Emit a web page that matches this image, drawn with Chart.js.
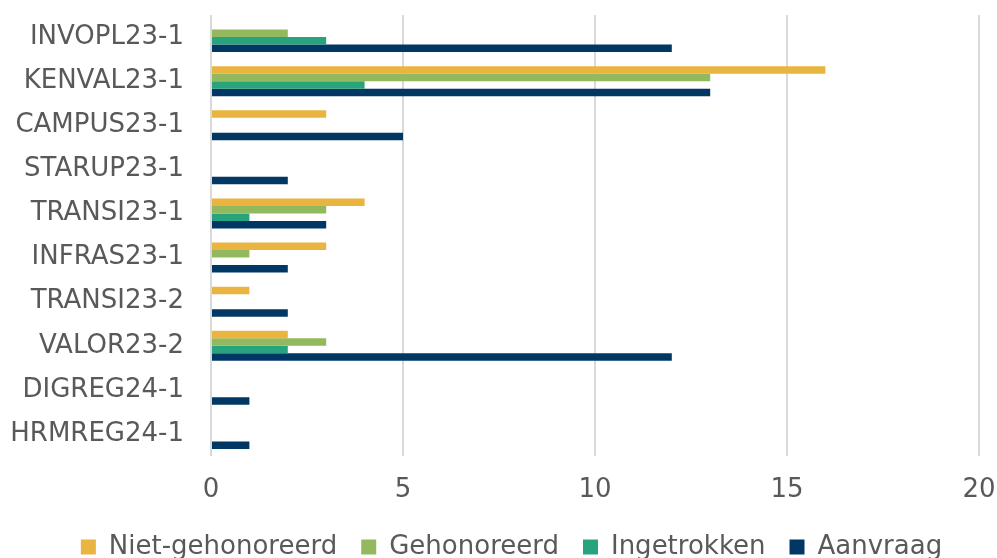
<!DOCTYPE html>
<html>
<head>
<meta charset="utf-8">
<script src="https://cdn.jsdelivr.net/npm/chart.js@4"></script>
<style>
  html, body { margin: 0; padding: 0; background: #fff; overflow: hidden; }
  #wrap { width: 997px; height: 570px; position: relative; }
</style>
</head>
<body>
<div id="wrap"><canvas id="chart-calls"></canvas></div>
<script>
const calls = ['INVOPL23-1', 'KENVAL23-1', 'CAMPUS23-1', 'STARUP23-1', 'TRANSI23-1',
    'INFRAS23-1', 'TRANSI23-2', 'VALOR23-2', 'DIGREG24-1', 'HRMREG24-1'];

const nietGehonoreerd = [0, 16, 3, 0, 4, 3, 1, 2, 0, 0];
const gehonoreerd     = [2, 13, 0, 0, 3, 1, 0, 3, 0, 0];
const ingetrokken     = [3, 4, 0, 0, 1, 0, 0, 2, 0, 0];
const aanvraag        = [12, 13, 5, 2, 3, 2, 2, 12, 1, 1];

const xTicks = [0, 5, 10, 15, 20];

const textColor = '#595959';
const fontFamily = '"DejaVu Sans", Verdana, sans-serif';

const makeSet = (label, color, data) => ({
    label: label,
    data: data,
    backgroundColor: color,
    borderWidth: 0,
    barPercentage: 1,
    categoryPercentage: 0.68
});

// legend sits a bit right of centre in the original
const nudgeLegend = {
    id: 'nudgeLegend',
    afterLayout: (chart) => {
        chart.legend.left += 22;
        chart.legend.right += 22;
    }
};

(() => {
    let ctx = document.getElementById('chart-calls').getContext('2d');

    new Chart(ctx, {
        type: 'bar',
        data: {
            labels: calls,
            datasets: [
                makeSet('Niet-gehonoreerd', '#E9B43F', nietGehonoreerd),
                makeSet('Gehonoreerd', '#92B95E', gehonoreerd),
                makeSet('Ingetrokken', '#27A47E', ingetrokken),
                makeSet('Aanvraag', '#003764', aanvraag)
            ]
        },
        options: {
            indexAxis: 'y',
            responsive: true,
            maintainAspectRatio: false,
            animation: false,
            layout: { padding: { top: 15, left: 0, right: 18, bottom: 0 } },
            scales: {
                x: {
                    min: xTicks[0],
                    max: xTicks[xTicks.length - 1],
                    afterBuildTicks: (axis) => { axis.ticks = xTicks.map(v => ({ value: v })); },
                    afterFit: (axis) => {
                        axis.paddingLeft = 0;
                        axis.paddingRight = 0;
                        axis.height = 54;
                    },
                    grid: { color: '#D9D9D9', lineWidth: 2, drawTicks: false },
                    border: { display: false },
                    ticks: { color: textColor, padding: 19, font: { family: fontFamily, size: 26 } }
                },
                y: {
                    afterFit: (axis) => {
                        axis.paddingTop = 0;
                        axis.paddingBottom = 0;
                        axis.width = 211;
                    },
                    grid: { display: false, drawTicks: false },
                    border: { display: false },
                    ticks: { color: textColor, padding: 27, font: { family: fontFamily, size: 26 } }
                }
            },
            plugins: {
                tooltip: { enabled: false },
                legend: {
                    position: 'bottom',
                    labels: {
                        color: textColor,
                        boxWidth: 15,
                        boxHeight: 15,
                        padding: 24,
                        font: { family: fontFamily, size: 26 }
                    }
                }
            }
        },
        plugins: [nudgeLegend]
    });
})();
</script>
</body>
</html>
